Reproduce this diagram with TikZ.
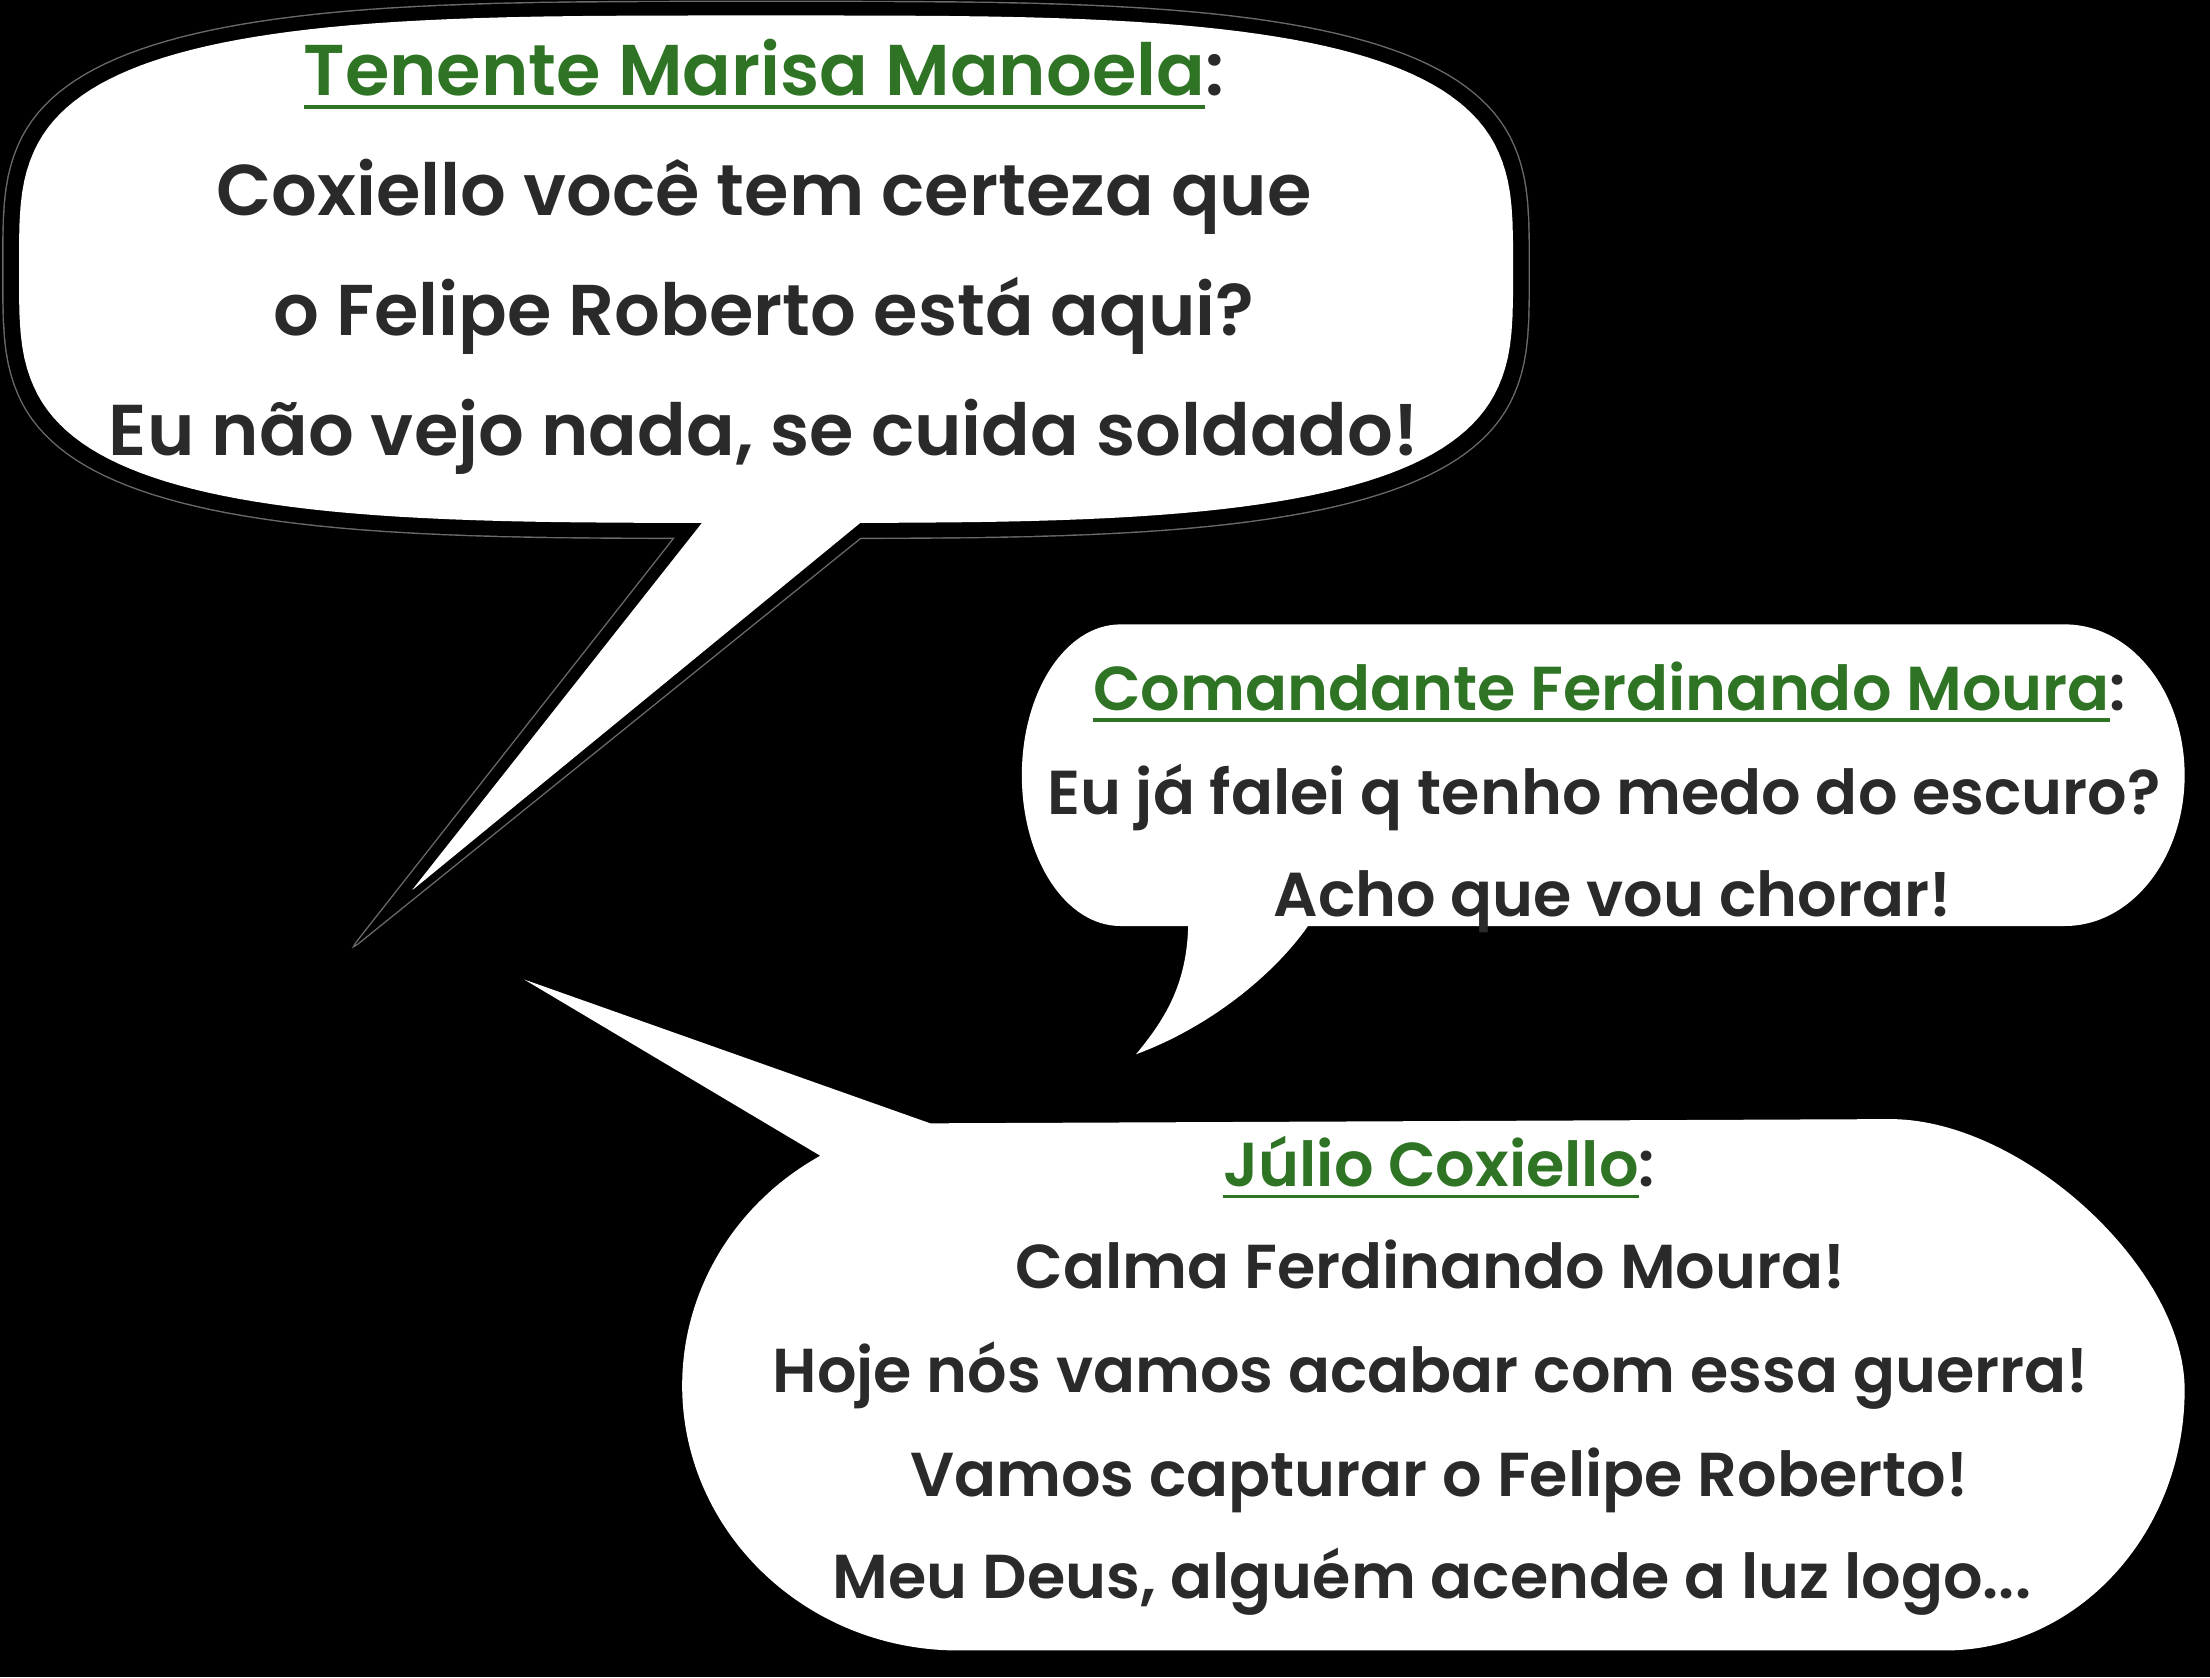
\documentclass[tikz,border=0pt]{standalone}
\usepackage{fontspec}
\setmainfont{Poppins SemiBold}
\definecolor{txt}{HTML}{2A2A2A}
\definecolor{grn}{HTML}{2E7424}
\definecolor{edgegray}{HTML}{6A6A6A}
\newcommand\nameul[1]{\setbox0=\hbox{\textcolor{grn}{#1}}\rlap{\textcolor{grn}{\rule[-0.186em]{\wd0}{0.06em}}}\box0}
\tikzset{
  lineA/.style={anchor=base, text=txt, inner sep=0pt, font=\fontsize{51}{51}\selectfont},
  lineB/.style={anchor=base, text=txt, inner sep=0pt, font=\fontsize{44}{44}\selectfont},
}
\begin{document}
\begin{tikzpicture}[x=1pt,y=-1pt]
\useasboundingbox (0,0) rectangle (1568,1190);
\fill[black] (0,0) rectangle (1568,1190);

% ---- bubble 1 (outlined) ----
\draw[edgegray, line width=2pt] plot[domain=1:359, samples=180, variable=\t]
  ({543.5+541*sign(cos(\t))*pow(abs(cos(\t)),0.5714)}, {191.5+190*sign(sin(\t))*pow(abs(sin(\t)),0.5714)}) -- cycle;
\draw[edgegray, line width=2pt, rounded corners=3pt] (495.8,360) -- (251,671.5) -- (637,360) -- cycle;
\fill[black] plot[domain=1:359, samples=180, variable=\t]
  ({543.5+541*sign(cos(\t))*pow(abs(cos(\t)),0.5714)}, {191.5+190*sign(sin(\t))*pow(abs(sin(\t)),0.5714)}) -- cycle;
\fill[black, rounded corners=3pt] (495.8,360) -- (251,671.5) -- (637,360) -- cycle;
\fill[white] plot[domain=1:359, samples=180, variable=\t]
  ({543.5+530*sign(cos(\t))*pow(abs(cos(\t)),0.5714)}, {191+180*sign(sin(\t))*pow(abs(sin(\t)),0.5714)}) -- cycle;
\fill[white, rounded corners=1.5pt] (514.6,350) -- (292,632) -- (636,350) -- cycle;

% ---- bubble 2 ----
\fill[white] (795,443) -- (1465,443) .. controls (1512,443) and (1550,491) .. (1550,550)
  .. controls (1550,609) and (1512,657) .. (1465,657) -- (928,657)
  .. controls (905,690) and (860,728) .. (806,748)
  .. controls (825,725) and (842,700) .. (843,657) -- (795,657)
  .. controls (756,657) and (725,609) .. (725,550)
  .. controls (725,491) and (756,443) .. (795,443) -- cycle;

% ---- bubble 3 ----
\fill[white] (372,695) -- (660,797) -- (1341,794)
  .. controls (1435,794) and (1550,900) .. (1550,986)
  .. controls (1550,1088) and (1474,1171) .. (1380,1171) -- (680,1171)
  .. controls (572,1171) and (484,1087) .. (484,983)
  .. controls (484,916) and (521,854) .. (582,820) -- cycle;

% ---- texts ----
\node[lineA] (a0) at (542,68)  {\nameul{Tenente Marisa Manoela}:};
\node[lineA] (a1) at (542,153) {Coxiello você tem certeza que};
\node[lineA] (a2) at (542,238) {o Felipe Roberto está aqui?};
\node[lineA] (a3) at (542,323) {Eu não vejo nada, se cuida soldado!};

\node[lineB] (b0) at (1142,504) {\nameul{Comandante Ferdinando Moura}:};
\node[lineB] (b1) at (1138,578) {Eu já falei q tenho medo do escuro?};
\node[lineB] (b2) at (1144,650) {Acho que vou chorar!};

\node[lineB] (c0) at (1021,842)  {\nameul{Júlio Coxiello}:};
\node[lineB] (c1) at (1015,914)  {Calma Ferdinando Moura!};
\node[lineB] (c2) at (1015,988)  {Hoje nós vamos acabar com essa guerra!};
\node[lineB] (c3) at (1021,1062) {Vamos capturar o Felipe Roberto!};
\node[lineB] (c4) at (1016,1134) {Meu Deus, alguém acende a luz logo...};
\end{tikzpicture}
\end{document}
